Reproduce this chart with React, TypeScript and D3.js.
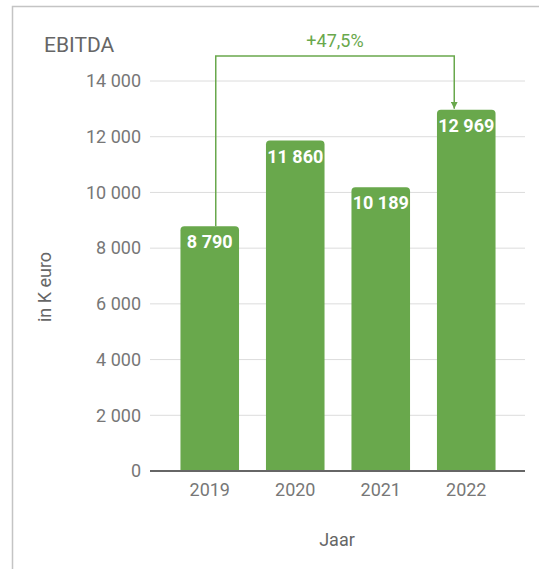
import React from 'react';
import * as d3 from 'd3';

const years = ['2019', '2020', '2021', '2022'];
const ebitda = [8790, 11860, 10189, 12969];
const yTicks = [0, 2000, 4000, 6000, 8000, 10000, 12000, 14000];
const growthLabel = '+47,5%';
const title = 'EBITDA';
const xTitle = 'Jaar';
const yTitle = 'in K euro';

const W = 539;
const H = 569;
const GREEN = '#69a84c';
const FONT = 'Roboto, sans-serif';

const nl = d3.formatLocale({ decimal: ',', thousands: ' ', grouping: [3], currency: ['€', ''] });
const fmt = nl.format(',d');

const App: React.FC = () => {
  const x = d3.scaleBand<string>().domain(years).range([167, 509]).paddingInner(0.315).paddingOuter(0.1575);
  const y = d3.scaleLinear().domain([0, 14000]).range([471, 81]);
  const bw = x.bandwidth();

  // rounded top only
  const barPath = (x0: number, y0: number, w: number, h: number, r: number) => {
    const p = d3.path();
    p.moveTo(x0, y0 + h);
    p.lineTo(x0, y0 + r);
    p.quadraticCurveTo(x0, y0, x0 + r, y0);
    p.lineTo(x0 + w - r, y0);
    p.quadraticCurveTo(x0 + w, y0, x0 + w, y0 + r);
    p.lineTo(x0 + w, y0 + h);
    p.closePath();
    return p.toString();
  };

  const first = years[0];
  const last = years[years.length - 1];
  const ax0 = (x(first) ?? 0) + bw / 2 + 6;
  const ax1 = (x(last) ?? 0) + bw / 2 - 12;
  const ay0 = y(ebitda[0]);
  const ay1 = y(ebitda[ebitda.length - 1]) - 1;
  const aTop = 56;

  return (
    <svg width={W} height={H} style={{ position: 'absolute', left: 0, top: 0, background: '#fff' }} fontFamily={FONT}>
      <defs>
        <marker id="arr" viewBox="0 0 10 10" refX={10} refY={5} markerWidth={7} markerHeight={7} orient="auto" markerUnits="userSpaceOnUse">
          <path d="M0,0 L10,5 L0,10 z" fill={GREEN} />
        </marker>
      </defs>
      {/* frame */}
      <path d={`M12.5,${H} V6.5 H${W}`} fill="none" stroke="#c4c4c4" strokeWidth={1.5} />

      <text x={44} y={52} fontSize={21} fill="#666">{title}</text>

      {/* grid + y ticks */}
      {yTicks.map((t) => (
        <g key={t}>
          {t !== 0 && <line x1={150} x2={525} y1={y(t)} y2={y(t)} stroke="#dcdcdc" strokeWidth={1} />}
          <text x={141} y={y(t)} dy="0.35em" textAnchor="end" fontSize={18} fill="#777">{fmt(t)}</text>
        </g>
      ))}

      {/* bars */}
      {years.map((yr, i) => {
        const bx = x(yr) ?? 0;
        const top = y(ebitda[i]);
        return (
          <g key={yr}>
            <path d={barPath(bx, top, bw, y(0) - top, 4)} fill={GREEN} />
            <text x={bx + bw / 2} y={top + 22} textAnchor="middle" fontSize={18} fontWeight="bold" fill="#fff">{fmt(ebitda[i])}</text>
            <text x={bx + bw / 2} y={496} textAnchor="middle" fontSize={18} fill="#777">{yr}</text>
          </g>
        );
      })}

      {/* baseline */}
      <line x1={150} x2={525} y1={y(0)} y2={y(0)} stroke="#666" strokeWidth={2} />

      {/* growth arrow */}
      <path d={`M${ax0},${ay0} V${aTop} H${ax1} V${ay1}`} fill="none" stroke={GREEN} strokeWidth={1.5} markerEnd="url(#arr)" />
      <text x={(ax0 + ax1) / 2} y={47} textAnchor="middle" fontSize={18} fill={GREEN}>{growthLabel}</text>

      <text x={337} y={546} textAnchor="middle" fontSize={18} fill="#666">{xTitle}</text>
      <text transform="translate(51,287) rotate(-90)" textAnchor="middle" fontSize={18} fill="#666">{yTitle}</text>
    </svg>
  );
};

export default App;
